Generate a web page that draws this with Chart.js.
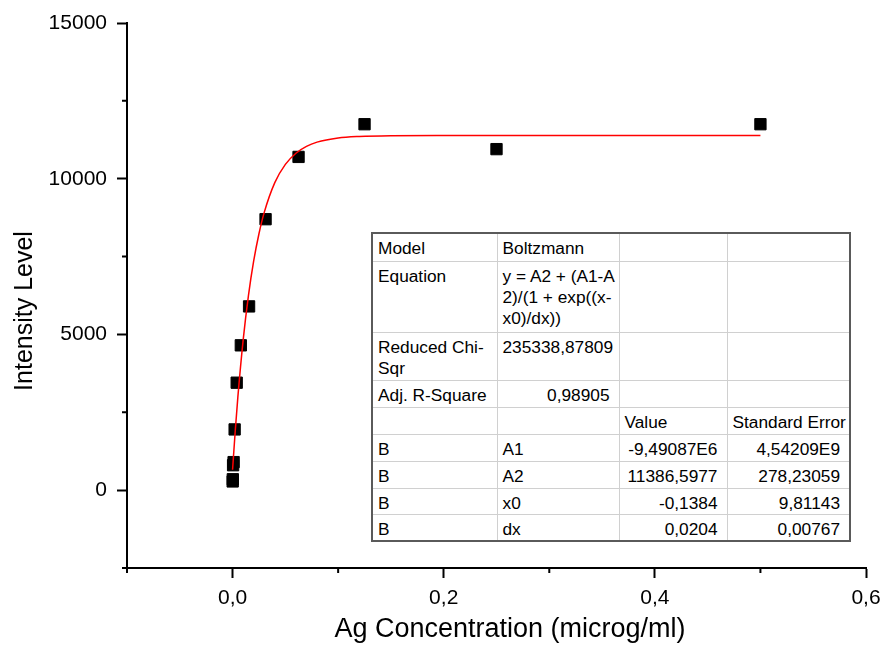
<!DOCTYPE html>
<html>
<head>
<meta charset="utf-8">
<script src="https://cdn.jsdelivr.net/npm/chart.js@4.4.0/dist/chart.umd.min.js"></script>
<style>
  body { margin: 0; background: #fff; }
  #wrap { position: relative; width: 885px; height: 651px; }
  #fitTable {
    position: absolute; left: 371px; top: 232px; width: 480px;
    border-collapse: collapse; table-layout: fixed;
    font-family: "Liberation Sans", Arial, sans-serif; font-size: 17.3px; line-height: 21px;
    color: #000; background: #fff;
    border: 2px solid #5a5a5a;
  }
  #fitTable td {
    border: 1px solid #d0d0d0; padding: 4px 9px 0 5px; vertical-align: top;
    white-space: nowrap; overflow: visible;
  }
  #fitTable td.num { text-align: right; }
</style>
</head>
<body>
<div id="wrap">
  <canvas id="chart" width="885" height="651"></canvas>
  <table id="fitTable"></table>
</div>
<script>
// measured points
const concentrations = [0.5, 0.25, 0.125, 0.0625, 0.03125, 0.015625, 0.0078125, 0.00390625, 0.00195, 0.00098, 0.00049, 0.00024, 0.00012];
const intensities = [11750, 10950, 11750, 10700, 8700, 5900, 4650, 3450, 1950, 900, 800, 350, 280];

// Boltzmann fit curve
const fitX = [0, 0.0025, 0.005, 0.01, 0.015, 0.02, 0.025, 0.03, 0.04, 0.05, 0.06, 0.07, 0.08, 0.1, 0.12, 0.15, 0.2, 0.3, 0.5];
const fitY = [656, 1893, 2985, 4810, 6239, 7358, 8232, 8918, 9874, 10460, 10819, 11039, 11174, 11307, 11356, 11380, 11386, 11387, 11387];

// fit results table
const tableRows = [
  ['Model', 'Boltzmann', '', ''],
  ['Equation', 'y = A2 + (A1-A<br>2)/(1 + exp((x-<br>x0)/dx))', '', ''],
  ['Reduced Chi-<br>Sqr', '235338,87809', '', ''],
  ['Adj. R-Square', '0,98905', '', ''],
  ['', '', 'Value', 'Standard Error'],
  ['B', 'A1', '-9,49087E6', '4,54209E9'],
  ['B', 'A2', '11386,5977', '278,23059'],
  ['B', 'x0', '-0,1384', '9,81143'],
  ['B', 'dx', '0,0204', '0,00767']
];
const rowHeights = [28, 71, 48, 27, 27, 27, 27, 26, 25];
const colWidths = [125, 122, 108, 123];

const xTitle = 'Ag Concentration (microg/ml)';
const yTitle = 'Intensity Level';

const tbl = document.getElementById('fitTable');
const cg = document.createElement('colgroup');
colWidths.forEach(w => {
  const col = document.createElement('col');
  col.style.width = w + 'px';
  cg.appendChild(col);
});
tbl.appendChild(cg);
tableRows.forEach((row, r) => {
  const tr = document.createElement('tr');
  tr.style.height = rowHeights[r] + 'px';
  row.forEach((txt, c) => {
    const td = document.createElement('td');
    td.innerHTML = txt;
    if (c >= 2 && r >= 5) td.className = 'num';
    if (r === 3 && c === 1) td.className = 'num';
    tr.appendChild(td);
  });
  tbl.appendChild(tr);
});

const font = "'Liberation Sans', Arial, sans-serif";
const isMajorX = v => Math.round(v * 10) % 2 === 0;
const isMajorY = v => v % 5000 === 0;

// short minor ticks + axis titles (titles sit a bit off-centre in the original)
const extras = {
  id: 'extras',
  afterDraw(chart) {
    const ctx = chart.ctx;
    const xs = chart.scales.x, ys = chart.scales.y;
    ctx.save();
    ctx.strokeStyle = '#000';
    ctx.lineWidth = 2;
    ctx.beginPath();
    xs.ticks.forEach(t => {
      if (!isMajorX(t.value)) {
        const px = xs.getPixelForValue(t.value);
        ctx.moveTo(px, ys.bottom);
        ctx.lineTo(px, ys.bottom + 5);
      }
    });
    ys.ticks.forEach(t => {
      if (!isMajorY(t.value)) {
        const py = ys.getPixelForValue(t.value);
        ctx.moveTo(xs.left, py);
        ctx.lineTo(xs.left - 5, py);
      }
    });
    ctx.stroke();

    ctx.fillStyle = '#000';
    ctx.textAlign = 'center';
    ctx.textBaseline = 'alphabetic';
    ctx.font = '27px ' + font;
    ctx.fillText(xTitle, 510, 637);
    ctx.translate(32, 311);
    ctx.rotate(-Math.PI / 2);
    ctx.font = '25px ' + font;
    ctx.fillText(yTitle, 0, 0);
    ctx.restore();
  }
};

new Chart(document.getElementById('chart'), {
  type: 'scatter',
  data: {
    datasets: [
      {
        type: 'line',
        data: fitX.map((x, i) => ({ x: x, y: fitY[i] })),
        borderColor: '#ff0000',
        borderWidth: 1.5,
        pointRadius: 0,
        fill: false,
        cubicInterpolationMode: 'monotone',
        order: 0
      },
      {
        data: concentrations.map((x, i) => ({ x: x, y: intensities[i] })),
        pointStyle: 'rect',
        pointRadius: 8,
        backgroundColor: '#000',
        borderColor: '#000',
        borderWidth: 1,
        order: 1
      }
    ]
  },
  options: {
    responsive: false,
    animation: false,
    layout: { padding: { top: 23, right: 19, left: 0, bottom: 0 } },
    plugins: { legend: { display: false }, tooltip: { enabled: false } },
    scales: {
      x: {
        type: 'linear',
        min: -0.1, max: 0.6,
        border: { display: true, color: '#000', width: 2 },
        grid: {
          drawOnChartArea: false, drawTicks: true, tickLength: 10, tickWidth: 2,
          tickColor: c => (isMajorX(c.tick.value) ? '#000' : 'rgba(0,0,0,0)')
        },
        ticks: {
          stepSize: 0.1, color: '#000', padding: 8, maxRotation: 0, autoSkip: false,
          font: { family: font, size: 21 },
          callback: v => (isMajorX(v) ? Math.abs(Math.round(v * 10) / 10).toFixed(1).replace('.', ',') : '')
        },
        afterFit: s => { s.height = 83; s.paddingRight = 0; s.paddingLeft = 0; }
      },
      y: {
        type: 'linear',
        min: -2500, max: 15000,
        border: { display: true, color: '#000', width: 2 },
        grid: {
          drawOnChartArea: false, drawTicks: true, tickLength: 10, tickWidth: 2,
          tickColor: c => (isMajorY(c.tick.value) ? '#000' : 'rgba(0,0,0,0)')
        },
        ticks: {
          stepSize: 2500, color: '#000', padding: 10, autoSkip: false,
          font: { family: font, size: 21 },
          callback: v => (isMajorY(v) ? String(v) : '')
        },
        afterFit: s => { s.width = 127; s.paddingTop = 0; s.paddingBottom = 0; }
      }
    }
  },
  plugins: [extras]
});
</script>
</body>
</html>
